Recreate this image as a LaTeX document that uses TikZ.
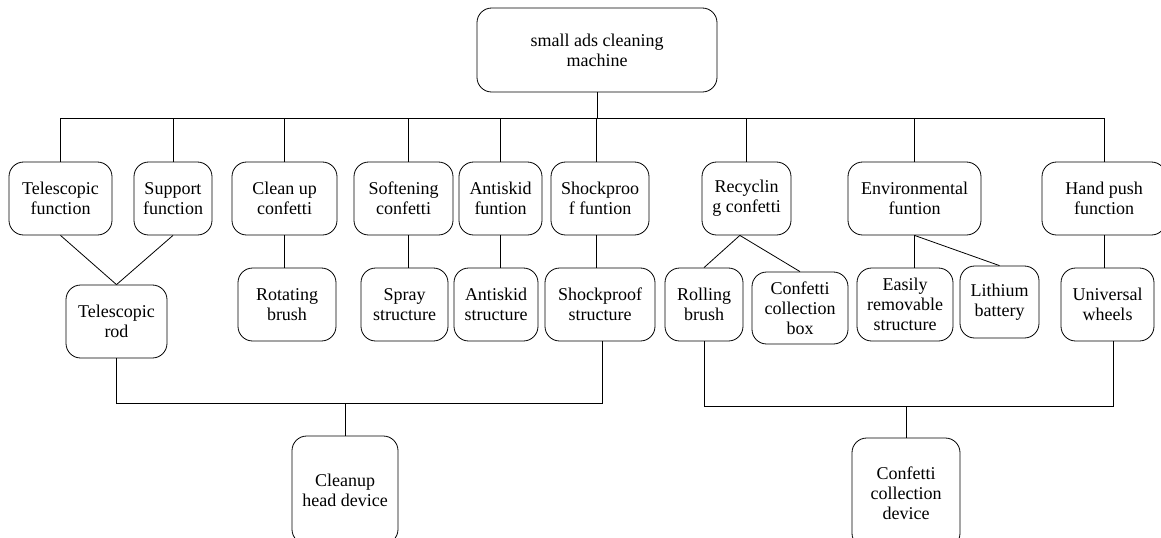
\documentclass[tikz,border=0pt]{standalone}
\usepackage{fontspec}
\setmainfont{Liberation Serif}
\newfontfamily\diagfont{Liberation Serif}
\begin{document}
\begin{tikzpicture}[x=0.75pt,y=-0.75pt,
  box/.style={draw, rounded corners=11pt, line width=0.6pt, inner sep=0pt, align=center,
    font=\diagfont\fontsize{13.5}{15}\selectfont},
  sz/.style 2 args={minimum width=#1*0.75pt, minimum height=#2*0.75pt},
  conn/.style={line width=0.6pt}]
\useasboundingbox (0,0) rectangle (1161,537);
\clip (0,0) rectangle (1161,537);
% top
\node[box,sz={240}{84}] (top) at (597,50) {small ads cleaning\\machine};
% first row
\node[box,sz={103}{73}] (tf) at (60.5,198.5) {Telescopic\\function};
\node[box,sz={78}{73}] (sf) at (173,198.5) {Support\\function};
\node[box,sz={105}{73}] (cu) at (284.5,198.5) {Clean up\\confetti};
\node[box,sz={99}{73}] (soft) at (403.5,198.5) {Softening\\confetti};
\node[box,sz={83}{73}] (antf) at (500.5,198.5) {Antiskid\\funtion};
\node[box,sz={98}{73}] (shf) at (600,198.5) {Shockproo\\f funtion};
\node[box,sz={89}{73}] (rec) at (746.5,198.5) {Recyclin\\g confetti};
\node[box,sz={133}{73}] (env) at (914.5,198.5) {Environmental\\funtion};
\node[box,sz={124}{73}] (hp) at (1104,198.5) {Hand push\\function};
% second row
\node[box,sz={101}{73}] (rod) at (116.5,321.5) {Telescopic\\rod};
\node[box,sz={98}{73}] (rot) at (287,304.5) {Rotating\\brush};
\node[box,sz={87}{73}] (spray) at (404.5,304.5) {Spray\\structure};
\node[box,sz={84}{73}] (ants) at (496,304.5) {Antiskid\\structure};
\node[box,sz={110}{73}] (shs) at (600,304.5) {Shockproof\\structure};
\node[box,sz={78}{73}] (roll) at (704,304.5) {Rolling\\brush};
\node[box,sz={96}{72}] (ccb) at (800,308) {Confetti\\collection\\box};
\node[box,sz={96}{73}] (ers) at (905,304.5) {Easily\\removable\\structure};
\node[box,sz={79}{72}] (lith) at (999.5,302) {Lithium\\battery};
\node[box,sz={93}{73}] (uw) at (1107.5,304.5) {Universal\\wheels};
% bottom
\node[box,sz={106}{108}] (chd) at (345,490) {Cleanup\\head device};
\node[box,sz={108}{110}] (ccd) at (906,493) {Confetti\\collection\\device};
% bus coordinates
\coordinate (bus) at (597,118);
\coordinate (lb) at (0,403);
\coordinate (rb) at (0,406);
% top connectors
\draw[conn] (top.south) -- (top.south |- bus);
\draw[conn] (tf.north |- bus) -- (hp.north |- bus);
\foreach \n in {tf,sf,cu,antf,rec,env,hp}{
  \draw[conn] (\n.north) -- (\n.north |- bus);
}
\draw[conn] ([xshift=4]soft.north) -- ([xshift=4]soft.north |- bus);
\draw[conn] ([xshift=-3]shf.north) -- ([xshift=-3]shf.north |- bus);
% first to second row
\draw[conn] (tf.south) -- (rod.north);
\draw[conn] (sf.south) -- (rod.north);
\draw[conn] (cu.south) -- (cu.south |- rot.north);
\draw[conn] ([xshift=4]soft.south) -- ([xshift=4]soft.south |- spray.north);
\draw[conn] (antf.south) -- (antf.south |- ants.north);
\draw[conn] ([xshift=-3]shf.south) -- ([xshift=-3]shf.south |- shs.north);
\draw[conn] ([xshift=-5]rec.south) -- (roll.north);
\draw[conn] ([xshift=-5]rec.south) -- (ccb.north);
\draw[conn] (env.south) -- (env.south |- ers.north);
\draw[conn] (env.south) -- (lith.north);
\draw[conn] (hp.south) -- (hp.south |- uw.north);
% bottom connectors
\draw[conn] (rod.south) |- ([xshift=2]shs.south |- lb) -- ([xshift=2]shs.south);
\draw[conn] (chd.north) -- (chd.north |- lb);
\draw[conn] (roll.south) |- ([xshift=4.5]uw.south |- rb) -- ([xshift=4.5]uw.south);
\draw[conn] (ccd.north) -- (ccd.north |- rb);
\end{tikzpicture}
\end{document}
